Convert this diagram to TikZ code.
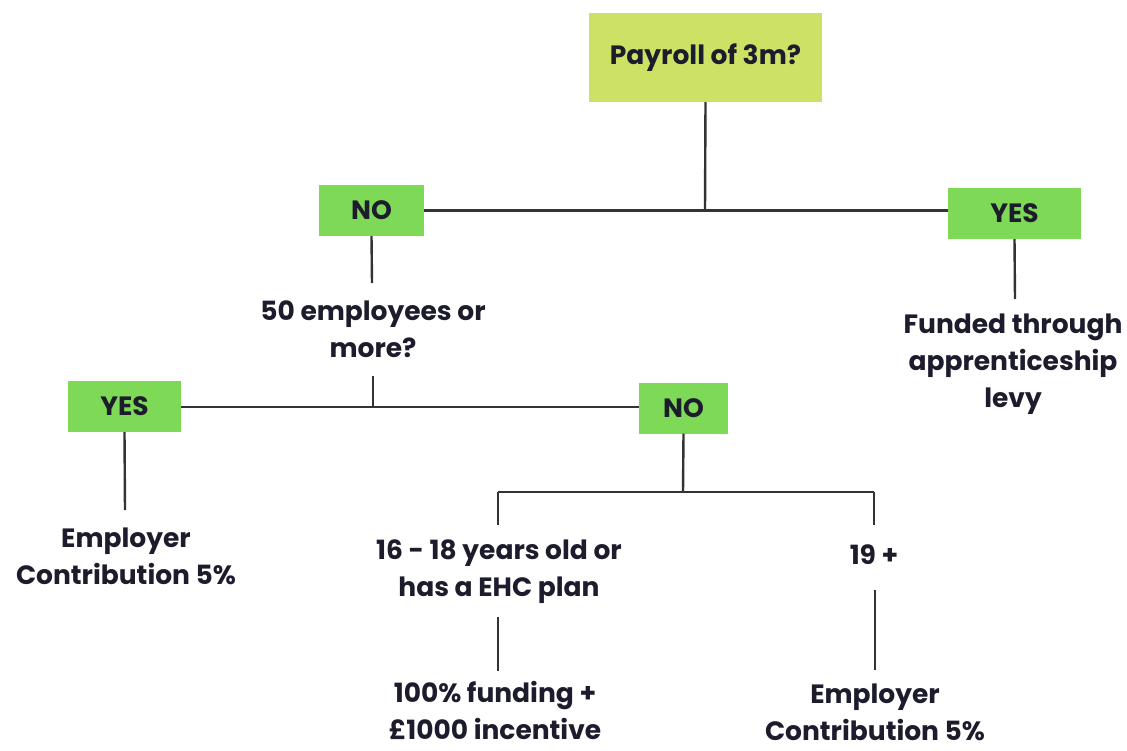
\documentclass[tikz,border=0pt]{standalone}
\usepackage{fontspec}
\setmainfont{Poppins}
\definecolor{lime}{HTML}{CDE265}
\definecolor{grn}{HTML}{7ED957}
\definecolor{ink}{HTML}{1C1C2C}
\definecolor{wire}{HTML}{333333}
\begin{document}
\begin{tikzpicture}[x=1pt,y=-1pt,
  txt/.style={font=\fontsize{26.5}{37}\selectfont\bfseries, text=ink, align=center, inner sep=0pt},
  box/.style={txt, minimum height=51pt, inner sep=0pt},
  wire/.style={draw=wire, line width=2.4pt}]
\useasboundingbox (0,0) rectangle (1127,750);
\node[box, fill=lime, minimum width=233pt, minimum height=89pt] (top) at (705.5,57.5) {Payroll of 3m?};
\node[box, fill=grn, minimum width=105pt] (no1) at (371.5,210.5) {NO};
\node[box, fill=grn, minimum width=133pt] (yes1) at (1014.5,213.5) {YES};
\node[txt] (q50) at (373,329) {50 employees or\\more?};
\node[txt] (levy) at (1013,364) {Funded through\\apprenticeship\\levy};
\node[box, fill=grn, minimum width=113pt] (yes2) at (124.5,406.5) {YES};
\node[box, fill=grn, minimum width=89pt] (no2) at (683.5,408) {NO};
\node[txt] (emp1) at (126,556) {Employer\\Contribution 5\%};
\node[txt] (young) at (499,572) {16 - 18 years old or\\has a EHC plan};
\node[txt] (old) at (874,555) {19 +};
\node[txt] (fund) at (495,710) {100\% funding +\\£1000 incentive};
\node[txt] (emp2) at (875,712) {Employer\\Contribution 5\%};
\coordinate (j1) at (705,210);
\coordinate (j2) at (373,407);
\coordinate (j3) at (683,492);
\coordinate (jl) at (498,492);
\coordinate (jr) at (874,492);
\draw[wire] (top.south) -- (j1);
\draw[wire] (no1.east) -- (yes1.west |- no1.east);
\draw[wire] (no1.south) -- (372,283);
\draw[wire] (yes1.south) -- (1015,299);
\draw[wire] (373,376) -- (j2);
\draw[wire] (yes2.east |- j2) -- (no2.west |- j2);
\draw[wire] (yes2.south) -- (125,510);
\draw[wire] (no2.south) -- (j3);
\draw[wire] (jl) -- (jr);
\draw[wire] (jl) -- (498,525);
\draw[wire] (jr) -- (874,525);
\draw[wire] (498,617) -- (498,671);
\draw[wire] (875,590) -- (875,670);
\end{tikzpicture}
\end{document}
